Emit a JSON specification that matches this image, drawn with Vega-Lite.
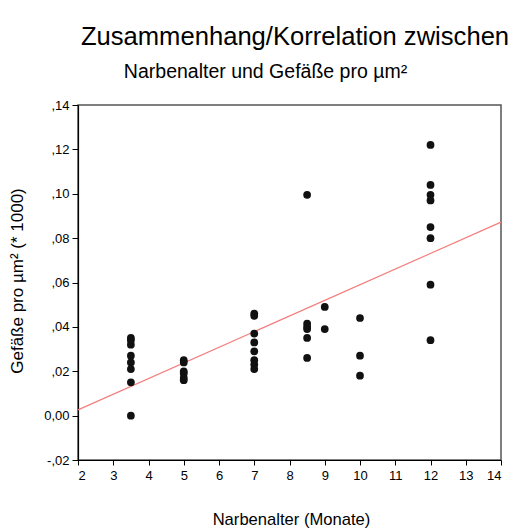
{
  "$schema": "https://vega.github.io/schema/vega-lite/v6.json",
  "autosize": {"type": "none"},
  "width": 423,
  "height": 355,
  "padding": {"left": 78, "top": 105, "right": 9, "bottom": 68},
  "background": "white",
  "config": {
    "font": "Liberation Sans",
    "view": {"stroke": "#555555", "strokeWidth": 1.5},
    "axis": {
      "domainColor": "#000000",
      "domainWidth": 1.2,
      "tickColor": "#000000",
      "labelColor": "#000000",
      "titleColor": "#000000",
      "titleFontWeight": "normal",
      "labelFont": "Liberation Sans",
      "titleFont": "Liberation Sans",
      "grid": false
    }
  },
  "title": {
    "text": "Zusammenhang/Korrelation zwischen",
    "fontSize": 25.6,
    "fontWeight": "normal",
    "color": "#000000",
    "anchor": "middle",
    "frame": "group",
    "dx": 5.5,
    "offset": 10
  },
  "datasets": {
    "punkte": [
      {"alter": 3.5, "dichte": 0.035},
      {"alter": 3.5, "dichte": 0.034},
      {"alter": 3.5, "dichte": 0.032},
      {"alter": 3.5, "dichte": 0.027},
      {"alter": 3.5, "dichte": 0.024},
      {"alter": 3.5, "dichte": 0.021},
      {"alter": 3.5, "dichte": 0.015},
      {"alter": 3.5, "dichte": 0.000},
      {"alter": 5, "dichte": 0.025},
      {"alter": 5, "dichte": 0.024},
      {"alter": 5, "dichte": 0.020},
      {"alter": 5, "dichte": 0.019},
      {"alter": 5, "dichte": 0.017},
      {"alter": 5, "dichte": 0.016},
      {"alter": 7, "dichte": 0.046},
      {"alter": 7, "dichte": 0.045},
      {"alter": 7, "dichte": 0.037},
      {"alter": 7, "dichte": 0.033},
      {"alter": 7, "dichte": 0.029},
      {"alter": 7, "dichte": 0.025},
      {"alter": 7, "dichte": 0.023},
      {"alter": 7, "dichte": 0.021},
      {"alter": 8.5, "dichte": 0.0995},
      {"alter": 8.5, "dichte": 0.0415},
      {"alter": 8.5, "dichte": 0.040},
      {"alter": 8.5, "dichte": 0.039},
      {"alter": 8.5, "dichte": 0.035},
      {"alter": 8.5, "dichte": 0.026},
      {"alter": 9, "dichte": 0.049},
      {"alter": 9, "dichte": 0.039},
      {"alter": 10, "dichte": 0.044},
      {"alter": 10, "dichte": 0.027},
      {"alter": 10, "dichte": 0.018},
      {"alter": 12, "dichte": 0.122},
      {"alter": 12, "dichte": 0.104},
      {"alter": 12, "dichte": 0.0995},
      {"alter": 12, "dichte": 0.097},
      {"alter": 12, "dichte": 0.085},
      {"alter": 12, "dichte": 0.080},
      {"alter": 12, "dichte": 0.059},
      {"alter": 12, "dichte": 0.034}
    ],
    "linie": [
      {"alter": 2, "dichte": 0.0026},
      {"alter": 14, "dichte": 0.0872}
    ]
  },
  "encoding": {
    "y": {
      "field": "dichte",
      "type": "quantitative",
      "scale": {"domain": [-0.02, 0.14], "nice": false, "zero": false},
      "axis": {
        "title": "Gefäße pro µm² (* 1000)",
        "titleFontSize": 17,
        "titleAngle": -90,
        "titleX": -61,
        "titleY": 175.5,
        "titleAlign": "center",
        "titleBaseline": "middle",
        "values": [-0.02, 0, 0.02, 0.04, 0.06, 0.08, 0.1, 0.12, 0.14],
        "labelExpr": "(datum.value < -0.001 ? '-' : '') + (abs(datum.value) < 0.001 ? '0,00' : replace(format(abs(datum.value), '.2f'), '0.', ','))",
        "labelFontSize": 13,
        "labelPadding": 3,
        "tickSize": 6
      }
    }
  },
  "layer": [
    {
      "data": {"name": "linie"},
      "mark": {"type": "line", "color": "#f47f7f", "strokeWidth": 1.2},
      "encoding": {
        "x": {
          "field": "alter",
          "type": "quantitative",
          "scale": {"domain": [2, 14], "nice": false, "zero": false},
          "axis": {
            "orient": "top",
            "title": "Narbenalter und Gefäße pro µm²",
            "titleFontSize": 19.5,
            "titleX": 187,
            "titleY": -28,
            "titleAlign": "center",
            "titleBaseline": "alphabetic",
            "labels": false,
            "ticks": false,
            "domain": false
          }
        }
      }
    },
    {
      "data": {"name": "punkte"},
      "mark": {"type": "point", "shape": "circle", "filled": true, "size": 60, "color": "#111111", "opacity": 1},
      "encoding": {
        "x": {
          "field": "alter",
          "type": "quantitative",
          "scale": {"domain": [2, 14], "nice": false, "zero": false},
          "axis": {
            "orient": "bottom",
            "title": "Narbenalter (Monate)",
            "titleFontSize": 16.6,
            "titleX": 213,
            "titleY": 64.7,
            "titleAlign": "center",
            "titleBaseline": "alphabetic",
            "values": [2, 3, 4, 5, 6, 7, 8, 9, 10, 11, 12, 13, 14],
            "format": "d",
            "labelFontSize": 13,
            "labelPadding": 4,
            "tickSize": 5
          }
        }
      }
    }
  ],
  "resolve": {"axis": {"x": "independent"}}
}
